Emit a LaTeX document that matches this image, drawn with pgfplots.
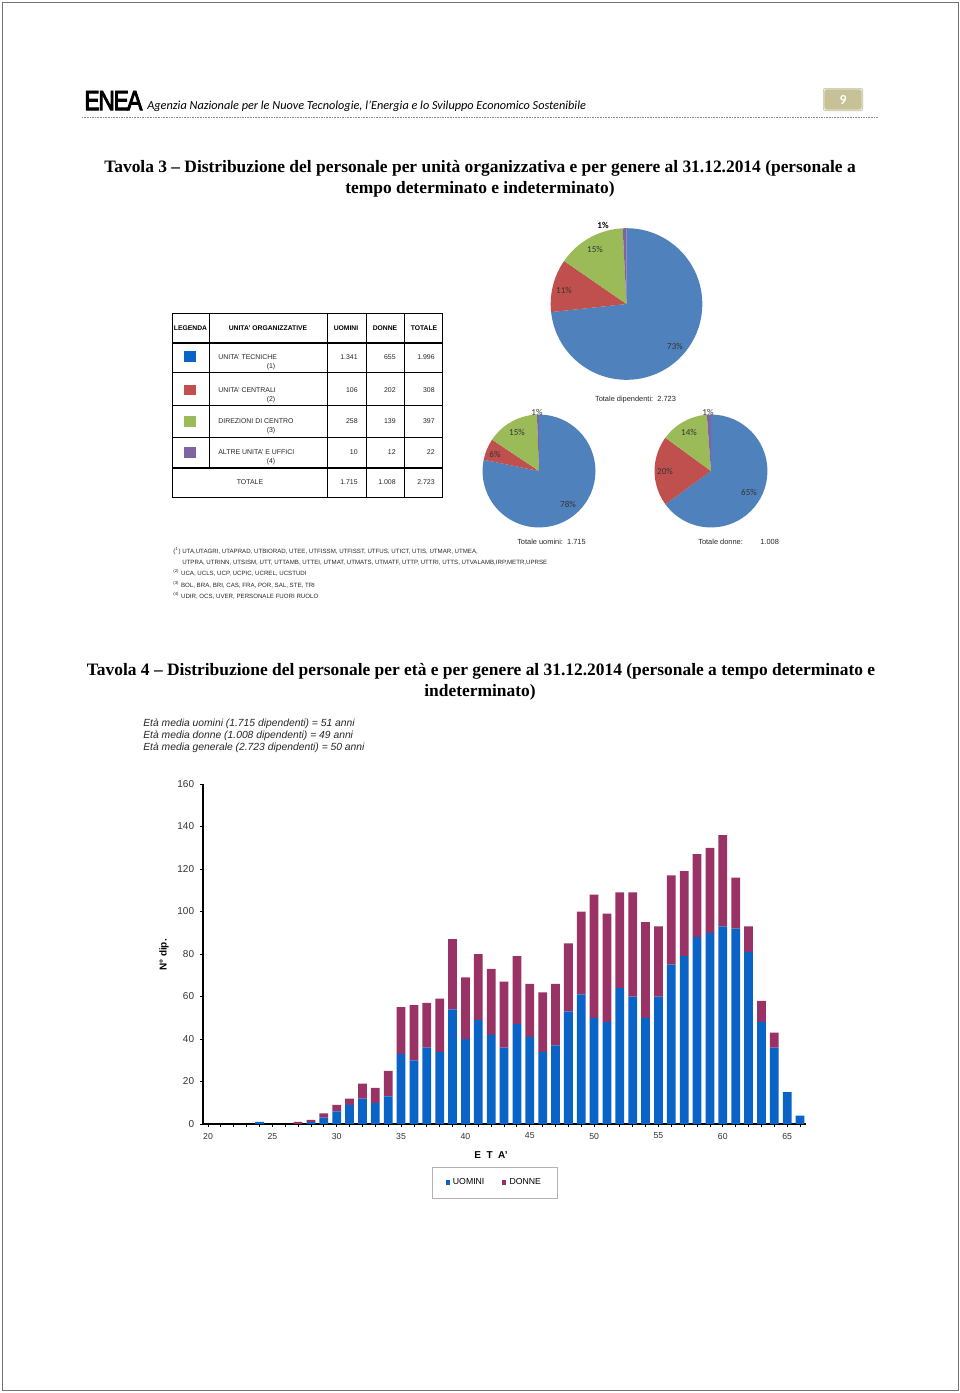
\documentclass[border=0pt]{standalone}
\usepackage{fontspec}
\setmainfont{Liberation Sans}
\newfontfamily\serif{Liberation Serif}
\newfontfamily\calib{Carlito}
\newfontfamily\logofont[FakeBold=3.5]{Liberation Sans}
\usepackage{pgfplots}
\usepackage{pgfplotstable}
\pgfplotsset{compat=1.18}
\definecolor{pblue}{RGB}{79,129,189}
\definecolor{pred}{RGB}{192,80,77}
\definecolor{pgreen}{RGB}{155,187,89}
\definecolor{ppurple}{RGB}{128,100,162}
\definecolor{bblue}{RGB}{10,100,200}
\definecolor{bplum}{RGB}{153,51,102}
\definecolor{tanbox}{RGB}{199,193,152}
\pgfplotstableread{
age u d
20 0 0
21 0 0
22 0 0
23 0 0
24 1 0
25 0 0
26 0 0
27 0 1
28 1 1
29 3 2
30 6 3
31 9 3
32 12 7
33 10 7
34 13 12
35 33 22
36 30 26
37 36 21
38 34 25
39 54 33
40 40 29
41 49 31
42 42 31
43 36 31
44 47 32
45 41 25
46 34 28
47 37 29
48 53 32
49 61 39
50 50 58
51 48 51
52 64 45
53 60 49
54 50 45
55 60 33
56 75 42
57 79 40
58 88 39
59 90 40
60 93 43
61 92 24
62 81 12
63 48 10
64 36 7
65 15 0
66 4 0
}\agedata
% pie slice: colour, cumulative start, cumulative end, total, radius
\newcommand{\slice}[5]{\fill[#1] (axis cs:0,0) -- ++({90-((#2)/(#4))*360}:#5) arc[start angle={90-((#2)/(#4))*360}, end angle={90-((#3)/(#4))*360}, radius=#5] -- cycle;}
\newcommand{\fs}[1]{\fontsize{#1}{#1}\selectfont}
\begin{document}
\begin{tikzpicture}[x=0.62pt,y=-0.62pt]
\useasboundingbox (0,0) rectangle (960,1393);
\fill[white] (0,0) rectangle (960,1393);
\draw[black!55, line width=0.6pt] (2,2) rectangle (958,1390);
% ---------- header
\node[anchor=west, inner sep=0] at (84,100.5) {\resizebox{36pt}{11.8pt}{\logofont E\kern-0.06em N\kern-0.06em E\kern-0.08em A}};
\node[anchor=base west, inner sep=0] at (147,109.5) {\calib\itshape\fs{7.6}Agenzia Nazionale per le Nuove Tecnologie, l’Energia e lo Sviluppo Economico Sostenibile};
\fill[tanbox, rounded corners=1.5pt] (823,88) rectangle (863,111);
\draw[white!75!tanbox, line width=0.6pt, rounded corners=1.5pt] (824,89) rectangle (862,110);
\node[text=white, font=\calib\bfseries\fs{8.5}] at (843,100) {9};
\draw[black!45, line width=0.5pt, dash pattern=on 0.5pt off 0.5pt] (82,117) -- (878,117);
% ---------- Tavola 3 title
\node[font=\serif\bfseries\fs{10.8}] at (480,168) {Tavola 3 – Distribuzione del personale per unità organizzativa e per genere al 31.12.2014 (personale a};
\node[font=\serif\bfseries\fs{10.8}] at (480,189) {tempo determinato e indeterminato)};
% ---------- table
\begin{scope}[line width=0.6pt]
\draw (172,313) rectangle (442,497);
\draw[line width=0.9pt] (172,343) -- (442,343);
\draw (172,372) -- (442,372);
\draw (172,405) -- (442,405);
\draw (172,437) -- (442,437);
\draw[line width=0.9pt] (172,468) -- (442,468);
\draw (209,313) -- (209,468);
\draw (327,313) -- (327,497);
\draw (366,313) -- (366,497);
\draw (404,313) -- (404,497);
\end{scope}
\begin{scope}[font=\bfseries\fs{4.2}, inner sep=0]
\node at (190.5,328) {LEGENDA};
\node at (268,328) {UNITA' ORGANIZZATIVE};
\node at (346,328) {UOMINI};
\node at (385,328) {DONNE};
\node at (424,328) {TOTALE};
\end{scope}
\fill[bblue] (184,351) rectangle (196,362);
\fill[pred] (184,385) rectangle (196,395);
\fill[pgreen] (184,416) rectangle (196,427);
\fill[ppurple] (184,447) rectangle (196,458);
\begin{scope}[font=\fs{4.3}, inner sep=0, text=black!85]
\node[anchor=west] at (218,357) {UNITA' TECNICHE};
\node at (271,367) {(1)};
\node[anchor=west] at (218,390) {UNITA' CENTRALI};
\node at (271,400) {(2)};
\node[anchor=west] at (218,421) {DIREZIONI DI CENTRO};
\node at (271,431) {(3)};
\node[anchor=west] at (218,452) {ALTRE UNITA' E UFFICI};
\node at (271,462) {(4)};
\node at (250,482) {TOTALE};
\node[anchor=east] at (358,357) {1.341};
\node[anchor=east] at (396,357) {655};
\node[anchor=east] at (435,357) {1.996};
\node[anchor=east] at (358,390) {106};
\node[anchor=east] at (396,390) {202};
\node[anchor=east] at (435,390) {308};
\node[anchor=east] at (358,421) {258};
\node[anchor=east] at (396,421) {139};
\node[anchor=east] at (435,421) {397};
\node[anchor=east] at (358,452) {10};
\node[anchor=east] at (396,452) {12};
\node[anchor=east] at (435,452) {22};
\node[anchor=east] at (358,482) {1.715};
\node[anchor=east] at (396,482) {1.008};
\node[anchor=east] at (435,482) {2.723};
\end{scope}
% ---------- footnotes
\begin{scope}[font=\fs{3.8}, inner sep=0, text=black!85]
\node[anchor=west] at (173,551) {(\textsuperscript{1}) UTA,UTAGRI, UTAPRAD, UTBIORAD, UTEE, UTFISSM, UTFISST, UTFUS, UTICT, UTIS, UTMAR, UTMEA,};
\node[anchor=west] at (182,563) {UTPRA, UTRINN, UTSISM, UTT, UTTAMB, UTTEI, UTMAT, UTMATS, UTMATF, UTTP, UTTRI, UTTS, UTVALAMB,IRP,METR,UPRSE};
\node[anchor=west] at (173,573) {\textsuperscript{(2)} UCA, UCLS, UCP, UCPIC, UCREL, UCSTUDI};
\node[anchor=west] at (173,585) {\textsuperscript{(3)} BOL, BRA, BRI, CAS, FRA, POR, SAL, STE, TRI};
\node[anchor=west] at (173,596) {\textsuperscript{(4)} UDIR, OCS, UVER, PERSONALE FUORI RUOLO};
\end{scope}
% ---------- pies
\coordinate (PA) at (626.5,304);
\coordinate (PB) at (539,471);
\coordinate (PC) at (711,471);
\begin{axis}[at={(PA)}, anchor=center, hide axis, scale only axis, width=94pt, height=94pt, xmin=-1, xmax=1, ymin=-1, ymax=1]
\slice{pblue}{0}{1996}{2723}{47pt}
\slice{pred}{1996}{2304}{2723}{47pt}
\slice{pgreen}{2304}{2701}{2723}{47pt}
\slice{ppurple}{2701}{2723}{2723}{47pt}
\end{axis}
\begin{axis}[at={(PB)}, anchor=center, hide axis, scale only axis, width=70pt, height=70pt, xmin=-1, xmax=1, ymin=-1, ymax=1]
\slice{pblue}{0}{1341}{1715}{35pt}
\slice{pred}{1341}{1447}{1715}{35pt}
\slice{pgreen}{1447}{1705}{1715}{35pt}
\slice{ppurple}{1705}{1715}{1715}{35pt}
\end{axis}
\begin{axis}[at={(PC)}, anchor=center, hide axis, scale only axis, width=70pt, height=70pt, xmin=-1, xmax=1, ymin=-1, ymax=1]
\slice{pblue}{0}{655}{1008}{35pt}
\slice{pred}{655}{857}{1008}{35pt}
\slice{pgreen}{857}{996}{1008}{35pt}
\slice{ppurple}{996}{1008}{1008}{35pt}
\end{axis}
\begin{scope}[font=\calib\fs{5.6}, inner sep=0, text=black!80]
\node[font=\calib\bfseries\fs{5.6}, text=black] at (603,225) {1\%};
\node at (595,249) {15\%};
\node at (564,290) {11\%};
\node at (675,346) {73\%};
\node at (537,412) {1\%};
\node at (517,432) {15\%};
\node at (495,454) {6\%};
\node at (568,504) {78\%};
\node at (708,412) {1\%};
\node at (689,432) {14\%};
\node at (665,471) {20\%};
\node at (749,492) {65\%};
\end{scope}
\begin{scope}[font=\fs{4.6}, inner sep=0, text=black!85]
\node at (635.5,400) {Totale dipendenti:\ \ 2.723};
\node at (551.5,541.5) {Totale uomini:\ \ 1.715};
\node[anchor=west] at (698,541.5) {Totale donne:};
\node[anchor=west] at (760,541.5) {1.008};
\end{scope}
% ---------- Tavola 4 title
\node[font=\serif\bfseries\fs{10.8}] at (481,671) {Tavola 4 – Distribuzione del personale per età e per genere al 31.12.2014 (personale a tempo determinato e};
\node[font=\serif\bfseries\fs{10.8}] at (480,692) {indeterminato)};
\begin{scope}[font=\itshape\fs{6.4}, inner sep=0, text=black!85]
\node[anchor=base west] at (143,726.5) {Età media uomini (1.715 dipendenti) = 51 anni};
\node[anchor=base west] at (143,738.5) {Età media donne (1.008 dipendenti) = 49 anni};
\node[anchor=base west] at (143,750.5) {Età media generale (2.723 dipendenti) = 50 anni};
\end{scope}
% ---------- bar chart
\coordinate (BO) at (203,1124);
\begin{axis}[at={(BO)}, anchor=south west, scale only axis,
  width=373.9pt, height=210.8pt,
  xmin=19.61, xmax=66.47, ymin=0, ymax=160,
  ybar stacked, bar width=0.68,
  axis x line=bottom, axis y line=left,
  axis line style={-, black, line width=0.8pt},
  xtick={20,25,...,65}, minor xtick={20,...,66}, ytick={0,20,...,160},
  tick align=outside, major tick length=2pt, minor tick length=2pt,
  tick style={black, line width=0.5pt},
  /pgf/number format/assume math mode=true,
  xticklabel style={font=\fs{5.4}, text=black!80},
  yticklabel style={font=\fs{6.2}, text=black!80},
  legend style={at={(0.484,-0.172)}, anchor=center, legend columns=2, draw=black!30, line width=0.4pt, font=\fs{5.4}, inner xsep=8pt, inner ysep=5pt, /tikz/every even column/.append style={column sep=9pt}},
  legend cell align=left,
]
\addplot[fill=bblue, draw=none, legend image code/.code={\fill[bblue] (0pt,-1.3pt) rectangle (2.6pt,1.3pt);}] table[x=age, y=u] {\agedata};
\addlegendentry{UOMINI}
\addplot[fill=bplum, draw=none, legend image code/.code={\fill[bplum] (0pt,-1.3pt) rectangle (2.6pt,1.3pt);}] table[x=age, y=d] {\agedata};
\addlegendentry{DONNE}
\end{axis}
\node[rotate=90, font=\bfseries\fs{6.2}] at (164,955) {N° dip.};
\node[font=\bfseries\fs{6.2}] at (491,1155) {E\ \ T\ \ A'};
\end{tikzpicture}
\end{document}
